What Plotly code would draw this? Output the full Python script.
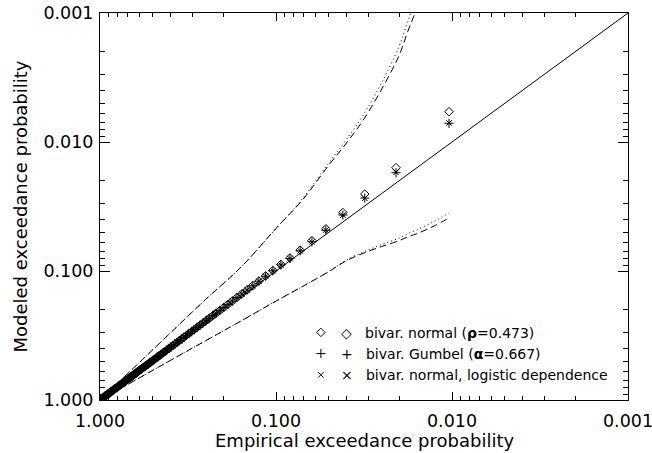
import plotly.graph_objects as go

# Empirical exceedance probability of each ranked event
empirical = [0.0104, 0.0208, 0.0313, 0.0417, 0.0521, 0.0625, 0.0729, 0.0833, 0.0938, 0.1042,
             0.1146, 0.1250, 0.1354, 0.1458, 0.1563, 0.1667, 0.1771, 0.1875, 0.1979, 0.2083,
             0.2188, 0.2292, 0.2396, 0.2500, 0.2604, 0.2708, 0.2813, 0.2917, 0.3021, 0.3125,
             0.3229, 0.3333, 0.3438, 0.3542, 0.3646, 0.3750, 0.3854, 0.3958, 0.4063, 0.4167,
             0.4271, 0.4375, 0.4479, 0.4583, 0.4688, 0.4792, 0.4896, 0.5000, 0.5104, 0.5208,
             0.5313, 0.5417, 0.5521, 0.5625, 0.5729, 0.5833, 0.5938, 0.6042, 0.6146, 0.6250,
             0.6354, 0.6458, 0.6563, 0.6667, 0.6771, 0.6875, 0.6979, 0.7083, 0.7188, 0.7292,
             0.7396, 0.7500, 0.7604, 0.7708, 0.7813, 0.7917, 0.8021, 0.8125, 0.8229, 0.8333,
             0.8438, 0.8542, 0.8646, 0.8750, 0.8854, 0.8958, 0.9063, 0.9167, 0.9271, 0.9375,
             0.9479, 0.9583, 0.9688, 0.9792, 0.9896]

modeled_normal = [0.00582, 0.0158, 0.0253, 0.0352, 0.0470, 0.0582, 0.0688, 0.0791, 0.0890, 0.0990,
                  0.1092, 0.1195, 0.1297, 0.1400, 0.1506, 0.1608, 0.1711, 0.1813, 0.1916, 0.2019,
                  0.2122, 0.2225, 0.2328, 0.2432, 0.2535, 0.2639, 0.2742, 0.2846, 0.2949, 0.3053,
                  0.3157, 0.3261, 0.3365, 0.3469, 0.3573, 0.3677, 0.3781, 0.3886, 0.3990, 0.4094,
                  0.4199, 0.4303, 0.4408, 0.4512, 0.4617, 0.4722, 0.4826, 0.4931, 0.5036, 0.5141,
                  0.5246, 0.5351, 0.5456, 0.5561, 0.5666, 0.5771, 0.5876, 0.5981, 0.6086, 0.6192,
                  0.6297, 0.6402, 0.6507, 0.6613, 0.6718, 0.6824, 0.6929, 0.7035, 0.7140, 0.7246,
                  0.7351, 0.7457, 0.7563, 0.7668, 0.7774, 0.7880, 0.7986, 0.8091, 0.8197, 0.8303,
                  0.8409, 0.8515, 0.8621, 0.8727, 0.8833, 0.8939, 0.9045, 0.9151, 0.9257, 0.9363,
                  0.9469, 0.9575, 0.9681, 0.9788, 0.9894]

modeled_gumbel = [0.00716, 0.0173, 0.0272, 0.0368, 0.0483, 0.0594, 0.0698, 0.0800, 0.0897, 0.0996,
                  0.1097, 0.1199, 0.1301, 0.1403, 0.1506, 0.1608, 0.1711, 0.1813, 0.1916, 0.2019,
                  0.2122, 0.2225, 0.2328, 0.2432, 0.2535, 0.2639, 0.2742, 0.2846, 0.2949, 0.3053,
                  0.3157, 0.3261, 0.3365, 0.3469, 0.3573, 0.3677, 0.3781, 0.3886, 0.3990, 0.4094,
                  0.4199, 0.4303, 0.4408, 0.4512, 0.4617, 0.4722, 0.4826, 0.4931, 0.5036, 0.5141,
                  0.5246, 0.5351, 0.5456, 0.5561, 0.5666, 0.5771, 0.5876, 0.5981, 0.6086, 0.6192,
                  0.6297, 0.6402, 0.6507, 0.6613, 0.6718, 0.6824, 0.6929, 0.7035, 0.7140, 0.7246,
                  0.7351, 0.7457, 0.7563, 0.7668, 0.7774, 0.7880, 0.7986, 0.8091, 0.8197, 0.8303,
                  0.8409, 0.8515, 0.8621, 0.8727, 0.8833, 0.8939, 0.9045, 0.9151, 0.9257, 0.9363,
                  0.9469, 0.9575, 0.9681, 0.9788, 0.9894]

modeled_logistic = [0.00712, 0.0172, 0.0273, 0.0369, 0.0482, 0.0595, 0.0698, 0.0801, 0.0897, 0.0996,
                    0.1097, 0.1199, 0.1301, 0.1403, 0.1506, 0.1608, 0.1711, 0.1813, 0.1916, 0.2019,
                    0.2122, 0.2225, 0.2328, 0.2432, 0.2535, 0.2639, 0.2742, 0.2846, 0.2949, 0.3053,
                    0.3157, 0.3261, 0.3365, 0.3469, 0.3573, 0.3677, 0.3781, 0.3886, 0.3990, 0.4094,
                    0.4199, 0.4303, 0.4408, 0.4512, 0.4617, 0.4722, 0.4826, 0.4931, 0.5036, 0.5141,
                    0.5246, 0.5351, 0.5456, 0.5561, 0.5666, 0.5771, 0.5876, 0.5981, 0.6086, 0.6192,
                    0.6297, 0.6402, 0.6507, 0.6613, 0.6718, 0.6824, 0.6929, 0.7035, 0.7140, 0.7246,
                    0.7351, 0.7457, 0.7563, 0.7668, 0.7774, 0.7880, 0.7986, 0.8091, 0.8197, 0.8303,
                    0.8409, 0.8515, 0.8621, 0.8727, 0.8833, 0.8939, 0.9045, 0.9151, 0.9257, 0.9363,
                    0.9469, 0.9575, 0.9681, 0.9788, 0.9894]

# Confidence envelopes
env_x = [1.0, 0.631, 0.398, 0.251, 0.158, 0.100, 0.0708, 0.0501, 0.0398, 0.0316,
         0.0251, 0.0200, 0.0178, 0.0158, 0.0126, 0.0104]
upper_dashed = [1.0, 0.550, 0.302, 0.166, 0.0933, 0.0468, 0.0282, 0.0151, 0.0102, 0.00661,
                0.00389, 0.00214, 0.00138, 0.000912, 0.000355, 0.000158]
upper_dotted = [1.0, 0.550, 0.302, 0.166, 0.0933, 0.0468, 0.0275, 0.0145, 0.00955, 0.00603,
                0.00347, 0.00182, 0.00115, 0.000724, 0.000251, 0.000100]
lower_dashed = [1.0, 0.703, 0.493, 0.347, 0.244, 0.171, 0.132, 0.101, 0.0832, 0.0724,
                0.0646, 0.0582, 0.0543, 0.0513, 0.0447, 0.0388]
lower_dotted = [1.0, 0.703, 0.493, 0.347, 0.244, 0.171, 0.132, 0.101, 0.0822, 0.0708,
                0.0624, 0.0556, 0.0513, 0.0479, 0.0412, 0.0355]

diag = [1.0, 0.001]

tick_vals = [1.0, 0.1, 0.01, 0.001]
tick_text = ["1.000", "0.100", "0.010", "0.001"]
minor_vals = [m * d for d in (0.1, 0.01, 0.001) for m in range(2, 10)]

x_title = "Empirical exceedance probability"
y_title = "Modeled exceedance probability"
legend_names = ["◇\u00a0\u00a0\u00a0bivar. normal (<b>ρ</b>=0.473)",
                "+\u00a0\u00a0\u00a0bivar. Gumbel (<b>α</b>=0.667)",
                "×\u00a0\u00a0\u00a0bivar. normal, logistic dependence"]

FONT = "DejaVu Sans"
fig = go.Figure()

fig.add_trace(go.Scatter(x=diag, y=diag, mode="lines", line=dict(color="black", width=1),
                         showlegend=False, hoverinfo="skip"))
for ys, dash in ((upper_dashed, "7px,4px"), (upper_dotted, "1px,3px"),
                 (lower_dashed, "7px,4px"), (lower_dotted, "1px,3px")):
    fig.add_trace(go.Scatter(x=env_x, y=ys, mode="lines", line_shape="spline",
                             line=dict(color="black", width=1, dash=dash),
                             showlegend=False, hoverinfo="skip"))

fig.add_trace(go.Scatter(x=empirical, y=modeled_normal, mode="markers", name=legend_names[0],
                         marker=dict(symbol="diamond-open", size=6.5, color="black",
                                     line=dict(width=1, color="black"))))
fig.add_trace(go.Scatter(x=empirical, y=modeled_gumbel, mode="markers", name=legend_names[1],
                         marker=dict(symbol="cross-thin-open", size=6.5, color="black",
                                     line=dict(width=1, color="black"))))
fig.add_trace(go.Scatter(x=empirical, y=modeled_logistic, mode="markers", name=legend_names[2],
                         marker=dict(symbol="x-thin-open", size=5.5, color="black",
                                     line=dict(width=1, color="black"))))

axis_common = dict(type="log", range=[0, -3], tickvals=tick_vals, ticktext=tick_text,
                   ticks="inside", tickcolor="black", tickwidth=1, automargin=False,
                   showline=True, linecolor="black", linewidth=1, mirror="ticks",
                   showgrid=False, zeroline=False, ticklabeloverflow="allow",
                   tickfont=dict(family=FONT, size=17.5, color="black"))

fig.update_xaxes(**axis_common, ticklen=8, ticklabelstandoff=5,
                 minor=dict(tickvals=minor_vals, ticks="inside", ticklen=4,
                            tickcolor="black", tickwidth=1, showgrid=False))
fig.update_yaxes(**axis_common, ticklen=10, ticklabelstandoff=2,
                 minor=dict(tickvals=minor_vals, ticks="inside", ticklen=5,
                            tickcolor="black", tickwidth=1, showgrid=False))

fig.add_annotation(text=x_title, xref="paper", yref="paper", x=0.5, y=-0.1034,
                   xanchor="center", yanchor="middle", showarrow=False,
                   font=dict(family=FONT, size=18, color="black"))
fig.add_annotation(text=y_title, xref="paper", yref="paper", x=-0.1515, y=0.5,
                   xanchor="center", yanchor="middle", textangle=-90, showarrow=False,
                   font=dict(family=FONT, size=18, color="black"))

fig.update_layout(
    width=652, height=453,
    margin=dict(l=100, r=24, t=13, b=53, autoexpand=False),
    paper_bgcolor="white", plot_bgcolor="white",
    font=dict(family=FONT, color="black"),
    hovermode=False,
    legend=dict(x=0.3805, y=0.215, xanchor="left", yanchor="top",
                bgcolor="rgba(0,0,0,0)", font=dict(family=FONT, size=14, color="black"),
                tracegroupgap=0, itemwidth=30),
)

# Remove the browser's default 8px page margin so the figure fills the window exactly.
fig.write_html("out.html", config={"displayModeBar": False},
               post_script="document.body.style.margin='0';document.body.style.overflow='hidden';")
